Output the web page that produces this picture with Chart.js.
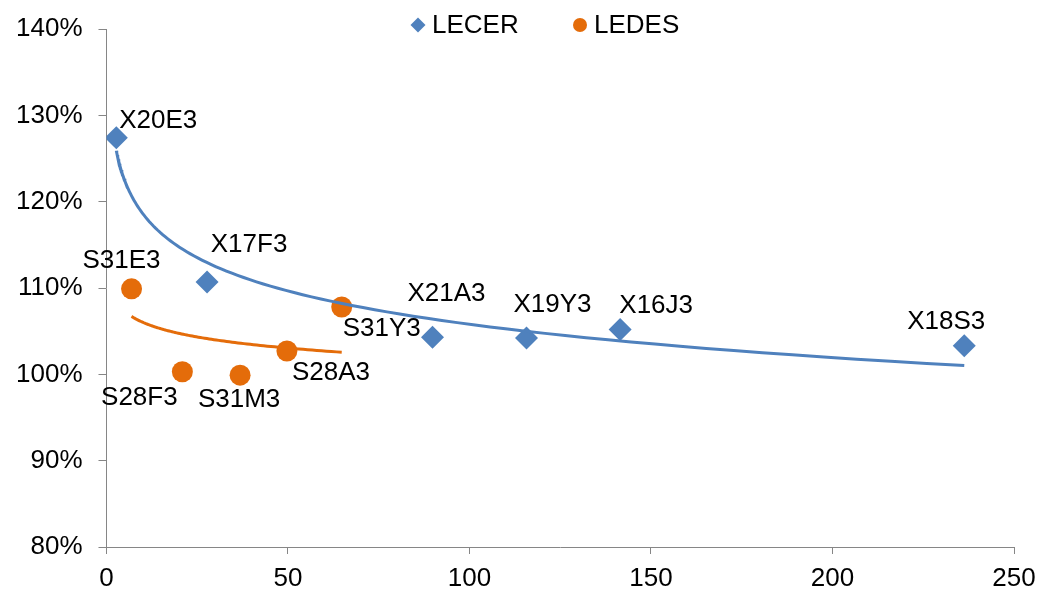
<!DOCTYPE html>
<html>
<head>
<meta charset="utf-8">
<script src="https://cdn.jsdelivr.net/npm/chart.js@4.4.1/dist/chart.umd.min.js"></script>
<style>
  html, body { margin: 0; padding: 0; background: #fff; }
  #wrap { width: 1041px; height: 590px; }
</style>
</head>
<body>
<div id="wrap"><canvas id="chart"></canvas></div>
<script>
const lecerNames = ['X20E3', 'X17F3', 'X21A3', 'X19Y3', 'X16J3', 'X18S3'];
const lecerX = [2.7, 27.7, 89.8, 115.7, 141.5, 236.3];
const lecerY = [127.4, 110.7, 104.3, 104.2, 105.2, 103.3];

const ledesNames = ['S31E3', 'S28F3', 'S31M3', 'S28A3', 'S31Y3'];
const ledesX = [6.9, 20.9, 36.8, 49.7, 64.8];
const ledesY = [109.9, 100.3, 99.9, 102.7, 107.8];

const xTicks = [0, 50, 100, 150, 200, 250];
const yTicks = [80, 90, 100, 110, 120, 130, 140];

// where each point label sits relative to its marker (px)
const lecerLabelPos = [[42, -17], [42, -37], [14, -43], [26, -33], [36, -24], [-18, -24]];
const ledesLabelPos = [[-10, -28], [-43, 26], [-1, 25], [44, 22], [40, 22]];

const blue = '#4F81BD';
const orange = '#E46C0A';
const fontFamily = "'Liberation Sans', Arial, sans-serif";

// Excel style logarithmic trendline: y = a + b*ln(x), least squares
const logFit = (xs, ys) => {
    const lx = xs.map(Math.log);
    const n = xs.length;
    const mx = lx.reduce((s, v) => s + v, 0) / n;
    const my = ys.reduce((s, v) => s + v, 0) / n;
    let sxy = 0, sxx = 0;
    for (let i = 0; i < n; i++) {
        sxy += (lx[i] - mx) * (ys[i] - my);
        sxx += (lx[i] - mx) * (lx[i] - mx);
    }
    const b = sxy / sxx;
    const a = my - b * mx;
    return x => a + b * Math.log(x);
};

const trendPoints = (xs, ys) => {
    const f = logFit(xs, ys);
    const lo = Math.min(...xs), hi = Math.max(...xs);
    let pts = [];
    for (let i = 0; i <= 100; i++) {
        const x = lo * Math.pow(hi / lo, i / 100);
        pts.push({ x: x, y: f(x) });
    }
    return pts;
};

const toPoints = (xs, ys) => xs.map((x, i) => ({ x: x, y: ys[i] }));

const pointLabels = {
    id: 'pointLabels',
    afterDatasetsDraw(chart) {
        const ctx = chart.ctx;
        ctx.save();
        ctx.font = '26px ' + fontFamily;
        ctx.fillStyle = '#000';
        ctx.textAlign = 'center';
        ctx.textBaseline = 'middle';
        chart.data.datasets.forEach((ds, i) => {
            if (!ds.names) return;
            chart.getDatasetMeta(i).data.forEach((pt, j) => {
                const [dx, dy] = ds.labelPos[j];
                ctx.fillText(ds.names[j], pt.x + dx, pt.y + dy);
            });
        });
        ctx.restore();
    }
};

// legend sits over the top of the plot like in the original
const topLegend = {
    id: 'topLegend',
    afterDraw(chart) {
        const ctx = chart.ctx;
        const items = [
            { ds: chart.data.datasets[0], x: 418 },
            { ds: chart.data.datasets[1], x: 580 }
        ];
        const y = 25;
        ctx.save();
        ctx.font = '26px ' + fontFamily;
        ctx.textBaseline = 'middle';
        ctx.textAlign = 'left';
        items.forEach(it => {
            ctx.fillStyle = it.ds.backgroundColor;
            ctx.beginPath();
            if (it.ds.pointStyle === 'rectRot') {
                ctx.moveTo(it.x, y - 7.5);
                ctx.lineTo(it.x + 7.5, y);
                ctx.lineTo(it.x, y + 7.5);
                ctx.lineTo(it.x - 7.5, y);
                ctx.closePath();
            } else {
                ctx.arc(it.x, y, 7, 0, Math.PI * 2);
            }
            ctx.fill();
            ctx.fillStyle = '#000';
            ctx.fillText(it.ds.label, it.x + 14, y + 1);
        });
        ctx.restore();
    }
};

Chart.defaults.font.family = fontFamily;
Chart.defaults.font.size = 26;
Chart.defaults.font.lineHeight = 1;
Chart.defaults.color = '#000';

new Chart(document.getElementById('chart').getContext('2d'), {
    type: 'scatter',
    data: {
        datasets: [
            {
                label: 'LECER',
                data: toPoints(lecerX, lecerY),
                names: lecerNames,
                labelPos: lecerLabelPos,
                pointStyle: 'rectRot',
                pointRadius: 11.5,
                pointHoverRadius: 11.5,
                backgroundColor: blue,
                borderColor: blue,
                borderWidth: 0,
                order: 2
            },
            {
                label: 'LEDES',
                data: toPoints(ledesX, ledesY),
                names: ledesNames,
                labelPos: ledesLabelPos,
                pointStyle: 'circle',
                pointRadius: 10.5,
                pointHoverRadius: 10.5,
                backgroundColor: orange,
                borderColor: orange,
                borderWidth: 0,
                order: 2
            },
            {
                label: 'trend LECER',
                data: trendPoints(lecerX, lecerY),
                showLine: true,
                borderColor: blue,
                borderWidth: 3,
                pointRadius: 0,
                fill: false,
                order: 1
            },
            {
                label: 'trend LEDES',
                data: trendPoints(ledesX, ledesY),
                showLine: true,
                borderColor: orange,
                borderWidth: 3,
                pointRadius: 0,
                fill: false,
                order: 1
            }
        ]
    },
    options: {
        responsive: true,
        maintainAspectRatio: false,
        animation: false,
        layout: { padding: { left: 0, right: 27, top: 19, bottom: -14 } },
        plugins: {
            legend: { display: false },
            tooltip: { enabled: false }
        },
        scales: {
            x: {
                type: 'linear',
                min: 0,
                max: 250,
                afterBuildTicks: axis => { axis.ticks = xTicks.map(v => ({ value: v })); },
                afterFit: axis => { axis.paddingRight = 0; },
                grid: { drawOnChartArea: false, drawTicks: true, tickLength: 7, color: '#868686' },
                border: { color: '#868686', width: 1 },
                ticks: { padding: 12, maxRotation: 0 }
            },
            y: {
                min: 80,
                max: 140,
                afterBuildTicks: axis => { axis.ticks = yTicks.map(v => ({ value: v })); },
                grid: { drawOnChartArea: false, drawTicks: true, tickLength: 8, color: '#868686' },
                border: { color: '#868686', width: 1 },
                ticks: { padding: 16, callback: v => v + '%' }
            }
        }
    },
    plugins: [pointLabels, topLegend]
});
</script>
</body>
</html>
